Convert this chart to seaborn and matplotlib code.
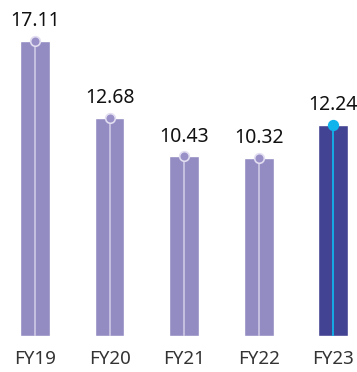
import matplotlib
matplotlib.use("Agg")
import matplotlib.pyplot as plt
import seaborn as sns
import pandas as pd

years = ["FY19", "FY20", "FY21", "FY22", "FY23"]
values = [17.11, 12.68, 10.43, 10.32, 12.24]
highlight = "FY23"

bar_light = "#928CC2"
bar_dark = "#434393"
stem_light = "#CBC5E3"
stem_dark = "#10B4EC"

sns.set_theme(style="white")
plt.rcParams["font.family"] = ["Noto Sans", "DejaVu Sans"]

df = pd.DataFrame({"year": years, "value": values})
palette = {y: (bar_dark if y == highlight else bar_light) for y in years}

fig = plt.figure(figsize=(3.57, 3.72), dpi=100)
ax = fig.add_axes([0, 36 / 372, 1, 336 / 372])

sns.barplot(data=df, x="year", y="value", hue="year", palette=palette,
            width=0.4, saturation=1, legend=False, ax=ax)

for i, (y, v) in enumerate(zip(years, values)):
    hl = y == highlight
    ax.vlines(i, 0, v, color=stem_dark if hl else stem_light, lw=1.3, zorder=3)
    ax.scatter([i], [v], s=48, color=stem_dark if hl else "#9890C6",
               edgecolor=stem_dark if hl else "#E2DDF0", linewidth=1.2, zorder=4)
    ax.annotate(f"{v:.2f}", (i, v), xytext=(0, 7), textcoords="offset points",
                ha="center", va="bottom", fontsize=14, color="#111111")

ax.set_xlim(-0.47, 4.32)
ax.set_ylim(0, 19.5)
ax.set_xlabel("")
ax.set_ylabel("")
ax.set_yticks([])
ax.tick_params(axis="x", length=0, labelsize=13.5, labelcolor="#333333", pad=10)
sns.despine(ax=ax, left=True, bottom=True)

fig.savefig("out.png", dpi=100)
